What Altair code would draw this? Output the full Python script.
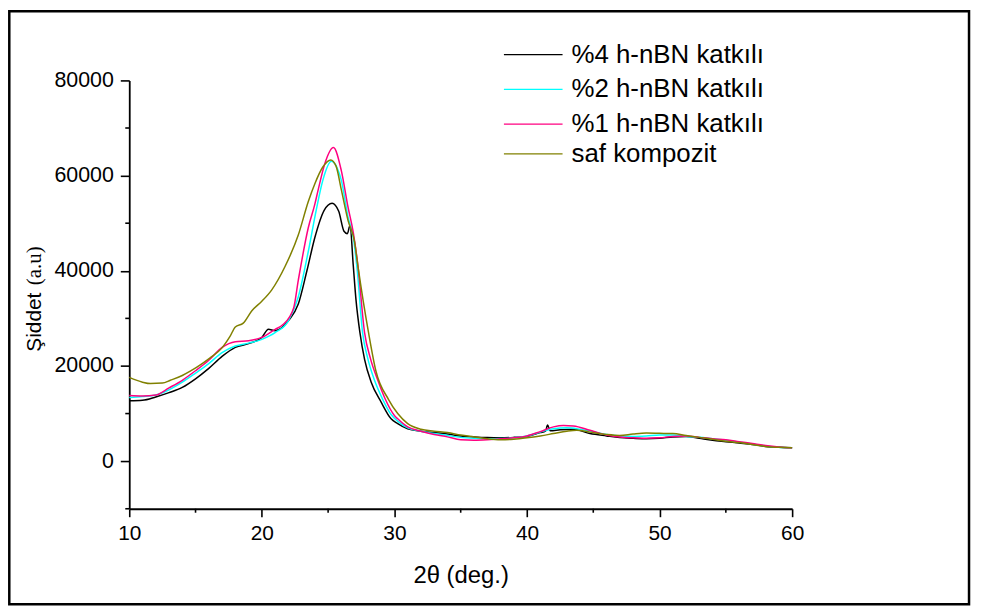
import altair as alt
import pandas as pd

# ---------------- data ----------------
series_names = ["%4 h-nBN katkılı", "%2 h-nBN katkılı", "%1 h-nBN katkılı", "saf kompozit"]
series_colors = ["#000000", "#00FFFF", "#FF0080", "#808000"]

x_4 = [10, 11, 12, 13, 14, 15, 16, 17, 18, 19, 20, 20.5, 21, 21.5, 22, 22.75, 23.4, 24.0, 24.7,
       25.3, 25.8, 26.2, 26.45, 26.65, 26.9, 27.1, 27.4, 27.75, 28.25, 29, 29.75, 30.25, 31, 32,
       33, 34, 35, 36, 37, 38, 39, 40, 41, 41.4, 41.55, 41.75, 42.5, 43.5, 44.75, 46, 47, 48, 49,
       50, 51, 52, 53, 54, 55, 56, 57, 58, 59, 60]
y_4 = [12700, 12800, 13500, 14400, 15500, 17300, 19500, 22000, 23900, 24700, 26000, 27700, 27400,
       28000, 29500, 33000, 40000, 47000, 52700, 54200, 52500, 48300, 47800, 49500, 41000, 34000,
       27000, 21400, 16600, 12400, 8900, 7900, 6800, 6300, 6000, 5700, 5300, 5100, 4950, 4900,
       5000, 5200, 6000, 6300, 7600, 6400, 6600, 6700, 5800, 5300, 4950, 4800, 4700, 4800, 5100,
       5200, 4800, 4400, 4100, 3800, 3500, 3100, 2900, 2800]

x_2 = [10, 11, 12, 13, 14, 15, 16, 17, 18, 19, 20, 21, 22, 22.75, 23.5, 24.1, 24.6, 25.25, 25.7,
       26.0, 26.5, 26.9, 27.2, 27.6, 28, 28.5, 29.1, 29.75, 30.25, 31, 32, 33, 34, 35, 36, 37, 38,
       39, 40, 41, 42, 43, 44, 45, 46, 47, 48, 49, 50, 51, 52, 53, 54, 55, 56, 57, 58, 59, 60]
y_2 = [13400, 13600, 13900, 15000, 16600, 18500, 20500, 22800, 24200, 24800, 25600, 27000, 29500,
       34500, 44000, 52700, 59000, 63000, 61500, 59000, 51300, 47000, 40000, 27000, 21500, 17000,
       13100, 9800, 8400, 7000, 6300, 5800, 5400, 5000, 4800, 4700, 4750, 4900, 5300, 6100, 6800,
       7000, 6700, 6200, 5600, 5300, 5200, 5300, 5500, 5500, 5200, 5000, 4700, 4400, 4000, 3600,
       3200, 2900, 2800]

x_1 = [10, 11, 12, 13, 14, 15, 16, 17, 18, 19, 20, 21, 21.6, 22.4, 22.75, 23.5, 24.0, 24.25, 24.75,
       25.4, 26.0, 26.5, 26.9, 27.25, 27.75, 28.2, 28.75, 29.3, 30, 30.25, 31, 32, 33, 34, 35, 36,
       37, 38, 39, 40, 41, 42, 42.75, 43.5, 44.75, 46, 47, 48, 49, 50, 51, 52, 53, 54, 55, 56, 57,
       58, 59, 60]
y_1 = [13800, 13700, 13900, 15400, 17000, 19000, 21200, 23900, 25100, 25300, 26000, 27700, 28700,
       32200, 38000, 49000, 54000, 57000, 62500, 65900, 61000, 53400, 48000, 41000, 27000, 21500,
       17000, 13100, 9600, 8900, 7200, 6300, 5600, 5100, 4500, 4400, 4500, 4700, 4900, 5300, 6200,
       7200, 7500, 7400, 6500, 5500, 5100, 4900, 4800, 4900, 5200, 5300, 5000, 4700, 4500, 4100,
       3700, 3300, 3000, 2800]

x_saf = [10, 11, 11.6, 12.5, 13.1, 14, 14.6, 15.5, 16.1, 17, 17.6, 18, 18.6, 19.25, 20, 20.75,
         21.75, 22.75, 23.5, 24.0, 24.6, 25.2, 25.6, 26.0, 26.5, 27.0, 27.25, 28.05, 28.6, 29.55,
         30.25, 31, 32, 33, 34, 35, 36, 37, 38, 39, 40, 41, 42, 43, 43.75, 44.75, 46, 47, 48, 49,
         50, 51, 52, 53, 54, 55, 56, 57, 58, 59, 60]
y_saf = [17600, 16600, 16300, 16400, 17000, 18000, 18900, 20500, 21700, 23800, 26200, 28200, 29000,
         31600, 33600, 36000, 40900, 47500, 54500, 58300, 61800, 63300, 62000, 57000, 50600, 46000,
         41000, 27000, 19000, 13000, 10000, 7900, 6700, 6300, 6000, 5500, 5100, 4700, 4500, 4600,
         4900, 5300, 5800, 6300, 6500, 6100, 5600, 5400, 5700, 5900, 5850, 5800, 5400, 5000, 4600,
         4200, 3900, 3500, 3100, 2900, 2800]

x_ticks = [10, 20, 30, 40, 50, 60]
x_minor = [15, 25, 35, 45, 55]
y_ticks = [0, 20000, 40000, 60000, 80000]
y_minor = [-10000, 10000, 30000, 50000, 70000]

x_title = "2θ (deg.)"
y_title_main = "Şiddet"
y_title_unit = "(a.u)"

# ---------------- table ----------------
rows = []
for name, xs, ys in zip(series_names, [x_4, x_2, x_1, x_saf], [y_4, y_2, y_1, y_saf]):
    for a, b in zip(xs, ys):
        rows.append({"x": a, "y": b, "series": name})
df = pd.DataFrame(rows)

W, H = 667, 431
FONT = "Liberation Sans"

xscale = alt.Scale(domain=[10, 60], nice=False, zero=False)
yscale = alt.Scale(domain=[-10000, 80000], nice=False, zero=False)

lines = alt.Chart(df).mark_line(strokeWidth=1.5, interpolate="monotone").encode(
    x=alt.X("x:Q", scale=xscale,
            axis=alt.Axis(values=x_ticks, title=x_title, format="d", grid=False,
                          labelFlush=False, labelOverlap=False,
                          tickSize=8, tickWidth=1.6, domainWidth=1.8, domainColor="black",
                          tickColor="black", labelColor="black", labelFont=FONT,
                          labelFontSize=21, labelPadding=6, titleFont=FONT, titleFontSize=24,
                          titleFontWeight="normal", titleColor="black", titlePadding=20)),
    y=alt.Y("y:Q", scale=yscale,
            axis=alt.Axis(values=y_ticks, title="", format="d", grid=False,
                          labelFlush=False, labelOverlap=False,
                          tickSize=9, tickWidth=1.6, domainWidth=1.8, domainColor="black",
                          tickColor="black", labelColor="black", labelFont=FONT,
                          labelFontSize=21.5, labelPadding=7)),
    color=alt.Color("series:N",
                    scale=alt.Scale(domain=series_names, range=series_colors),
                    legend=None),
)

xminor = alt.Chart(pd.DataFrame({"x": x_minor})).mark_rule(color="black", strokeWidth=1.6).encode(
    x=alt.X("x:Q", scale=xscale), y=alt.value(H), y2=alt.value(H + 4))
yminor = alt.Chart(pd.DataFrame({"y": y_minor})).mark_rule(color="black", strokeWidth=1.6).encode(
    y=alt.Y("y:Q", scale=yscale), x=alt.value(-4), x2=alt.value(0))

# manual legend (layout positions only)
legend_rows_y = [-26, 9, 44, 74]
legend_layers = []
for name, col, ly in zip(series_names, series_colors, legend_rows_y):
    d = pd.DataFrame({"t": [name]})
    legend_layers.append(
        alt.Chart(d).mark_rule(color=col, strokeWidth=1.3).encode(
            x=alt.value(377), x2=alt.value(436), y=alt.value(ly)))
    legend_layers.append(
        alt.Chart(d).mark_text(align="left", baseline="middle", font=FONT, fontSize=26,
                               color="black").encode(
            text="t:N", x=alt.value(445), y=alt.value(ly)))

ytitle1 = alt.Chart(pd.DataFrame({"t": [y_title_main]})).mark_text(
    angle=270, align="left", baseline="alphabetic", font=FONT, fontSize=21, color="black"
).encode(text="t:N", x=alt.value(-89), y=alt.value(273))
ytitle2 = alt.Chart(pd.DataFrame({"t": [y_title_unit]})).mark_text(
    angle=270, align="left", baseline="alphabetic", font="Liberation Serif", fontSize=21,
    color="black"
).encode(text="t:N", x=alt.value(-89), y=alt.value(206))

border = alt.Chart(pd.DataFrame({"b": [0]})).mark_rect(
    fillOpacity=0, stroke="black", strokeWidth=2.5
).encode(x=alt.value(-120.7), x2=alt.value(845), y=alt.value(-69.5), y2=alt.value(527))

chart = alt.layer(border, lines, xminor, yminor, ytitle1, ytitle2, *legend_layers).properties(
    width=W, height=H,
    autosize=alt.AutoSizeParams(type="none"),
    padding={"left": 122, "top": 71, "right": 183, "bottom": 99},
    background="white",
).configure_view(stroke=None)

chart.save("out.html", embed_options={"renderer": "svg", "actions": False})
